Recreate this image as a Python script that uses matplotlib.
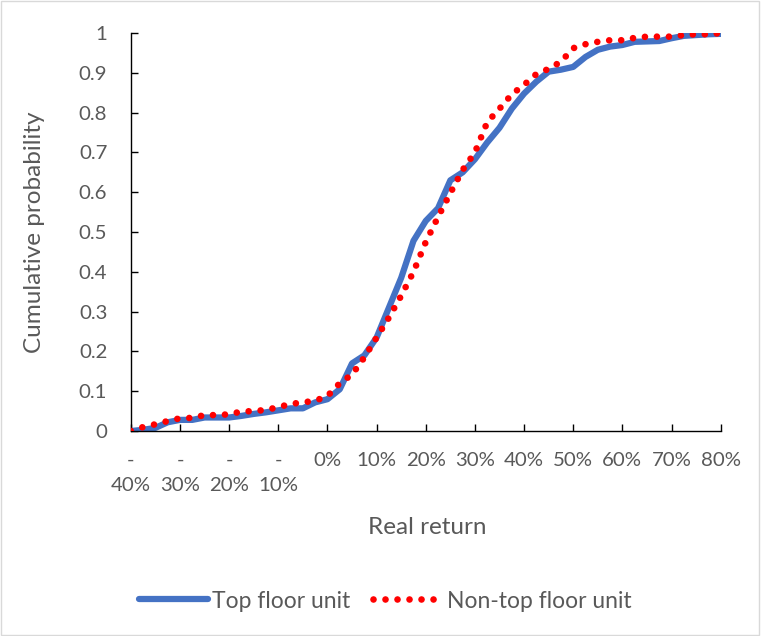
import numpy as np
import matplotlib.pyplot as plt
from matplotlib.patches import Rectangle

# Datos (retorno real en %, probabilidad acumulada)
real_return = np.arange(-40, 80.1, 2.5)
top_floor = [0.000, 0.003, 0.008, 0.022, 0.028, 0.028, 0.034, 0.034, 0.034, 0.038,
             0.043, 0.047, 0.052, 0.057, 0.057, 0.072, 0.080, 0.105, 0.170, 0.190,
             0.235, 0.310, 0.385, 0.478, 0.528, 0.560, 0.630, 0.650, 0.683, 0.725,
             0.762, 0.810, 0.848, 0.878, 0.903, 0.908, 0.915, 0.940, 0.958, 0.966,
             0.970, 0.978, 0.979, 0.980, 0.987, 0.993, 0.995, 0.997, 0.998]
non_top_floor = [0.000, 0.010, 0.017, 0.025, 0.032, 0.033, 0.040, 0.040, 0.042, 0.049,
                 0.050, 0.053, 0.060, 0.068, 0.072, 0.076, 0.088, 0.120, 0.142, 0.185,
                 0.235, 0.285, 0.340, 0.400, 0.475, 0.538, 0.598, 0.656, 0.700, 0.776,
                 0.810, 0.846, 0.870, 0.897, 0.910, 0.928, 0.962, 0.972, 0.978, 0.982,
                 0.982, 0.988, 0.991, 0.991, 0.991, 0.995, 0.997, 0.997, 1.000]

x_ticks = list(range(-40, 81, 10))
x_labels = [f"-\n{-t}%" if t < 0 else f"{t}%" for t in x_ticks]
y_ticks = [0, 0.1, 0.2, 0.3, 0.4, 0.5, 0.6, 0.7, 0.8, 0.9, 1]
y_labels = ["0", "0.1", "0.2", "0.3", "0.4", "0.5", "0.6", "0.7", "0.8", "0.9", "1"]

gray = '#595959'
plt.rcParams['font.family'] = ['Lato', 'DejaVu Sans']

fig = plt.figure(figsize=(7.61, 6.36), dpi=100)
ax = fig.add_axes([0.172, 0.3223, 0.775, 0.6257])

ax.plot(real_return, top_floor, color='#4472C4', lw=4.5, label='Top floor unit',
        solid_joinstyle='round', solid_capstyle='round', zorder=2)
ax.plot(real_return, non_top_floor, color='#FF0000', lw=4.8, label='Non-top floor unit',
        linestyle=(0, (0.001, 1.8)), dash_capstyle='round', zorder=3)

ax.set_xlim(-40, 80)
ax.set_ylim(0, 1)
ax.set_xticks(x_ticks)
ax.set_xticklabels(x_labels, linespacing=1.6, va='top')
ax.set_yticks(y_ticks)
ax.set_yticklabels(y_labels)

for s in ['top', 'right']:
    ax.spines[s].set_visible(False)
for s in ['left', 'bottom']:
    ax.spines[s].set_color('black')
    ax.spines[s].set_linewidth(1.0)

ax.tick_params(axis='x', direction='in', length=5, width=1, color='black',
               labelsize=14.7, labelcolor=gray, pad=15)
ax.tick_params(axis='y', direction='in', length=5, width=1, color='black',
               labelsize=14.7, labelcolor=gray, pad=17)

ax.set_xlabel('Real return', fontsize=17.5, color=gray)
ax.set_ylabel('Cumulative probability', fontsize=17.5, color=gray)
ax.xaxis.set_label_coords(0.503, -0.216)
ax.yaxis.set_label_coords(-0.146, 0.5)

ax.legend(loc='center', bbox_to_anchor=(0.506, 0.055), ncol=2, frameon=False,
          fontsize=16.5, labelcolor=gray, handlelength=3.0, columnspacing=1.0,
          handletextpad=0.2, bbox_transform=fig.transFigure)

fig.patches.append(Rectangle((0.001, 0.001), 0.997, 0.997, transform=fig.transFigure,
                             fill=False, edgecolor='#D9D9D9', lw=1))

plt.savefig('out.png', dpi=100)
